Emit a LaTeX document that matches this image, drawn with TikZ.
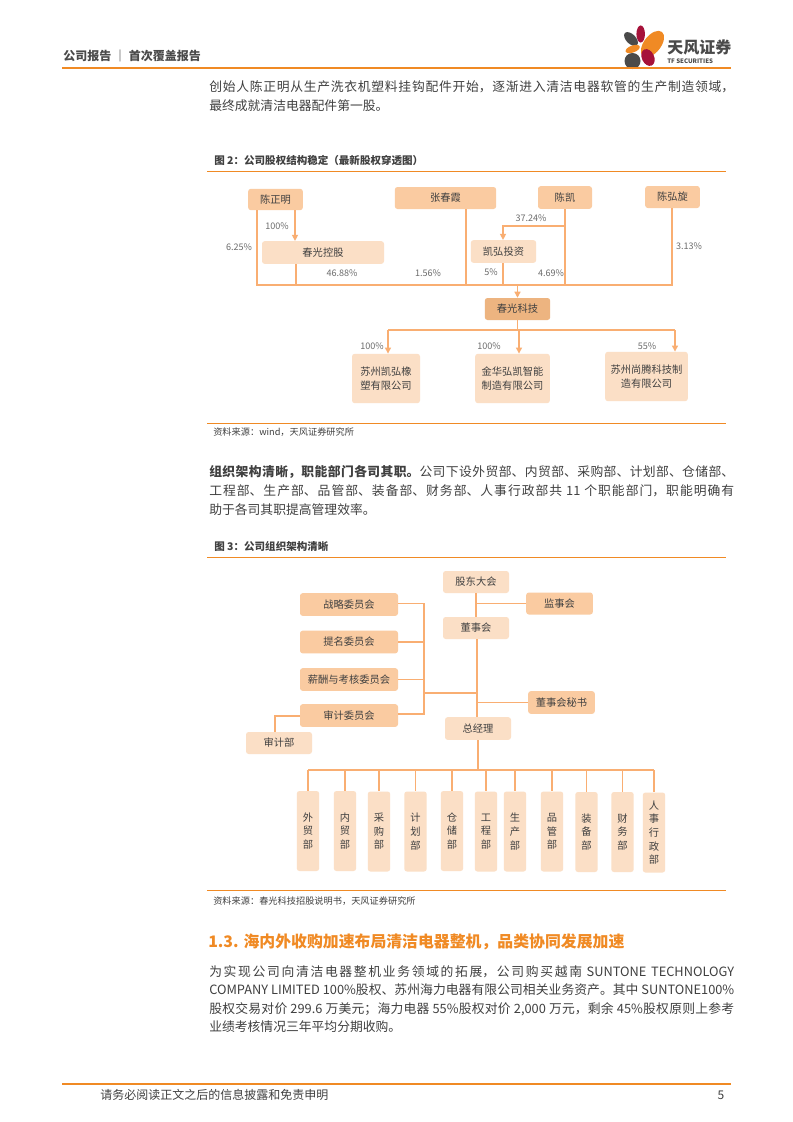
\documentclass[tikz,border=0pt]{standalone}
\usepackage{fontspec}
\setmainfont{Noto Sans CJK SC}
\XeTeXlinebreaklocale "zh"
\XeTeXlinebreakskip=0pt plus 1pt
\usetikzlibrary{arrows.meta}
\definecolor{tforange}{HTML}{F08A24}
\definecolor{tfline}{HTML}{F9AE72}
\definecolor{tfdark}{HTML}{FACBA1}
\definecolor{tflight}{HTML}{FBDFC6}
\definecolor{tfmain}{HTML}{EDB480}
\definecolor{tftext}{HTML}{404040}
\definecolor{tfred}{HTML}{A6123A}
\definecolor{tfgray}{HTML}{4A4A4A}
\tikzset{
  darkbox/.style={rectangle, rounded corners=2pt, fill=tfdark, text=tftext, inner sep=0pt, align=center, font=\fontsize{7.7}{11}\selectfont},
  lightbox/.style={darkbox, fill=tflight},
  mainbox/.style={darkbox, fill=tfmain},
  deptbox/.style={lightbox, minimum width=16.8pt, font=\fontsize{7.7}{10.2}\selectfont},
  conn/.style={draw=tfline, line width=0.9pt},
  arr/.style={conn, -{Triangle[length=4.5pt, width=4.5pt]}, draw=tfline, color=tfline},
  pct/.style={text=gray!85!black, inner sep=0pt, font=\fontsize{6.8}{8}\selectfont},
  bodytext/.style={anchor=north west, inner sep=0pt, text width=393.75pt, align=justify, text=tftext, font=\fontsize{9.6}{14.2}\selectfont},
  figtitle/.style={anchor=west, inner sep=0pt, text=tftext, font=\fontsize{7.9}{9}\bfseries\selectfont},
  srctext/.style={anchor=west, inner sep=0pt, text=tftext, font=\fontsize{6.9}{9}\selectfont},
  orule/.style={draw=tforange, line width=0.7pt}
}
\begin{document}
\begin{tikzpicture}[x=0.75pt, y=-0.75pt]
  \path[use as bounding box, fill=white] (0,0) rectangle (793,1122);

  \fill[tfred] (640.7,34) ellipse (3.2pt and 6.4pt);
  \fill[tfgray, rotate around={45:(631,39)}] (631,39) ellipse (3.6pt and 6.4pt);
  \fill[tforange, rotate around={-38:(652.5,44)}] (652.5,44) ellipse (6.4pt and 11.5pt);
  \fill[tforange, rotate around={-70:(632.7,49)}] (632.7,49) ellipse (2.6pt and 5.6pt);
  \fill[tfgray] (632.5,61) ellipse (6pt and 6pt);
  \fill[tfred, rotate around={25:(648,57.5)}] (648,57.5) ellipse (4.6pt and 6.6pt);
  \draw[tforange, line width=1.5pt] (62,68) -- (731,68);
  \node[anchor=west, inner sep=0pt, text=tfgray, font=\fontsize{9}{11}\bfseries\selectfont] (header) at (63,56) {公司报告 ｜ 首次覆盖报告};
  \node[anchor=west, inner sep=0pt, text=tfgray, font=\fontsize{12}{14}\bfseries\selectfont] (tfname) at (667,47) {天风证券};
  \node[anchor=west, inner sep=0pt, text=tfgray, font=\fontsize{4.6}{6}\bfseries\selectfont] (tfsub) at (667,61) {TF SECURITIES};

  \node[bodytext] (para1) at (209,80) {创始人陈正明从生产洗衣机塑料挂钩配件开始，逐渐进入清洁电器软管的生产制造领域，\linebreak 最终成就清洁电器配件第一股。};

  \node[figtitle] (fig2) at (214,161) {图 2：公司股权结构稳定（最新股权穿透图）};
  \draw[orule] (207,171) -- (726,171);

  \node[darkbox, minimum width=41pt, minimum height=16pt] (czm) at (275.5,199.5) {陈正明};
  \node[darkbox, minimum width=76pt, minimum height=16.5pt] (zcx) at (445.5,198) {张春霞};
  \node[darkbox, minimum width=40.5pt, minimum height=17pt] (ck) at (565,197.5) {陈凯};
  \node[darkbox, minimum width=41pt, minimum height=16.5pt] (chx) at (672.5,197) {陈弘旋};
  \node[lightbox, minimum width=91.5pt, minimum height=17pt] (cgkg) at (323,252.5) {春光控股};
  \node[lightbox, minimum width=49pt, minimum height=17pt] (khtz) at (503.5,251.5) {凯弘投资};
  \node[mainbox, minimum width=49pt, minimum height=16.5pt] (cgkj) at (517.5,309) {春光科技};
  \node[lightbox, minimum width=51pt, minimum height=37pt] (szkh) at (386,378.5) {苏州凯弘橡\\塑有限公司};
  \node[lightbox, minimum width=56pt, minimum height=37pt] (jhhk) at (512.5,378.5) {金华弘凯智能\\制造有限公司};
  \node[lightbox, minimum width=62pt, minimum height=37pt] (szst) at (646.5,376.5) {苏州尚腾科技制\\造有限公司};

  \coordinate (busl) at (257,285);
  \coordinate (busr) at (672,285);
  \coordinate (busm) at (517.5,285);
  \coordinate (kbend) at (565,226);
  \coordinate (branchl) at (388,330);
  \coordinate (branchr) at (675,330);
  \coordinate (branchm) at (517.5,330);

  \draw[conn] (czm.south -| busl) -- (busl) -- (busr) -- (chx.south -| busr);
  \draw[arr] (295,0 |- czm.south) -- (295,0 |- cgkg.north);
  \draw[conn] (296,0 |- cgkg.south) -- (296,285);
  \draw[conn] (466,0 |- zcx.south) -- (466,285);
  \draw[conn] (ck.south) -- (kbend) -- (kbend |- busl);
  \draw[arr] (kbend) -- (503,226) -- (503,0 |- khtz.north);
  \draw[conn] (503,0 |- khtz.south) -- (503,285);
  \draw[arr] (busm) -- (cgkj.north);
  \draw[conn] (cgkj.south) -- (branchm);
  \draw[conn] (branchl) -- (branchr);
  \draw[arr] (branchl) -- (388,0 |- szkh.north);
  \draw[arr] (branchm) -- (519,330) -- (519,0 |- jhhk.north);
  \draw[arr] (branchr) -- (675,0 |- szst.north);

  \node[pct] (p1) at (277,226) {100\%};
  \node[pct] (p2) at (239,247) {6.25\%};
  \node[pct] (p3) at (342,273) {46.88\%};
  \node[pct] (p4) at (428,273) {1.56\%};
  \node[pct] (p5) at (531,218) {37.24\%};
  \node[pct] (p6) at (491,272) {5\%};
  \node[pct] (p7) at (551,273) {4.69\%};
  \node[pct] (p8) at (689,246) {3.13\%};
  \node[pct] (p9) at (372,346) {100\%};
  \node[pct] (p10) at (489,346) {100\%};
  \node[pct] (p11) at (647,346) {55\%};

  \draw[orule] (207,423) -- (726,423);
  \node[srctext] (src2) at (213,432) {资料来源：wind，天风证券研究所};

  \node[bodytext] (para2) at (209,465) {\textbf{组织架构清晰，职能部门各司其职。}公司下设外贸部、内贸部、采购部、计划部、仓储部、\linebreak 工程部、生产部、品管部、装备部、财务部、人事行政部共 11 个职能部门，职能明确有\linebreak 助于各司其职提高管理效率。};

  \node[figtitle] (fig3) at (214,546) {图 3：公司组织架构清晰};
  \draw[orule] (207,557) -- (726,557);

  \node[lightbox, minimum width=49.5pt, minimum height=16.5pt] (gd) at (476,582) {股东大会};
  \node[darkbox, minimum width=50pt, minimum height=16.5pt] (js) at (559.5,603.5) {监事会};
  \node[lightbox, minimum width=49.5pt, minimum height=16.5pt] (ds) at (476,628) {董事会};
  \node[darkbox, minimum width=73.5pt, minimum height=17pt] (zl) at (349,604.5) {战略委员会};
  \node[darkbox, minimum width=73.5pt, minimum height=17pt] (tm) at (349,642) {提名委员会};
  \node[darkbox, minimum width=73.5pt, minimum height=17pt] (xc) at (349,679.5) {薪酬与考核委员会};
  \node[darkbox, minimum width=73.5pt, minimum height=17pt] (sjw) at (349,715.5) {审计委员会};
  \node[lightbox, minimum width=49.5pt, minimum height=16.5pt] (sjb) at (279,743) {审计部};
  \node[lightbox, minimum width=49.5pt, minimum height=17pt] (zjl) at (478,728.5) {总经理};
  \node[darkbox, minimum width=50pt, minimum height=17pt] (ms) at (561.5,702.5) {董事会秘书};

  \coordinate (cmtop) at (424,603.5);
  \coordinate (cmbot) at (424,714);
  \coordinate (cmmid) at (424,693);
  \coordinate (trunk) at (477,693);
  \coordinate (sjbend) at (275,716);

  \draw[conn] (gd.south) -- (ds.north);
  \draw[conn] (js.west) -- (476,603.5);
  \draw[conn] (zl.east |- cmtop) -- (cmtop) -- (cmbot) -- (sjw.east |- cmbot);
  \draw[conn] (tm.east) -- (tm.east -| cmtop);
  \draw[conn] (xc.east) -- (xc.east -| cmtop);
  \draw[conn] (cmmid) -- (trunk);
  \draw[conn] (477,0 |- ds.south) -- (477,0 |- zjl.north);
  \draw[conn] (ms.west) -- (477,702.5);
  \draw[conn] (sjw.west |- sjbend) -- (sjbend) -- (sjbend |- sjb.north);

  \node[deptbox, minimum height=60pt] (d1) at (308,831) {外\\贸\\部};
  \node[deptbox, minimum height=60pt] (d2) at (345,831) {内\\贸\\部};
  \node[deptbox, minimum height=60pt] (d3) at (379,831.5) {采\\购\\部};
  \node[deptbox, minimum height=60pt] (d4) at (415.5,831.5) {计\\划\\部};
  \node[deptbox, minimum height=60pt] (d5) at (452,831) {仓\\储\\部};
  \node[deptbox, minimum height=60pt] (d6) at (486,831.5) {工\\程\\部};
  \node[deptbox, minimum height=60pt] (d7) at (515,831.5) {生\\产\\部};
  \node[deptbox, minimum height=60pt] (d8) at (552,831.5) {品\\管\\部};
  \node[deptbox, minimum height=60pt] (d9) at (586.5,832) {装\\备\\部};
  \node[deptbox, minimum height=60pt] (d10) at (622.5,832) {财\\务\\部};
  \node[deptbox, minimum height=60pt] (d11) at (654,832.5) {人\\事\\行\\政\\部};

  \coordinate (deptbus) at (478,770);
  \draw[conn] (zjl.south -| deptbus) -- (deptbus);
  \draw[conn] (d1.north |- deptbus) -- (d11.north |- deptbus);
  \foreach \d in {d1,d2,d3,d4,d5,d6,d7,d8,d9,d10,d11}
    \draw[conn] (\d.north |- deptbus) -- (\d.north);

  \draw[orule] (207,890) -- (726,890);
  \node[srctext] (src3) at (213,901) {资料来源：春光科技招股说明书，天风证券研究所};

  \node[anchor=west, inner sep=0pt, text=tforange, font=\fontsize{11.9}{14}\bfseries\selectfont] (sec) at (208,942) {1.3. 海内外收购加速布局清洁电器整机，品类协同发展加速};

  \node[bodytext, font=\fontsize{9.6}{13.9}\selectfont] (para3) at (209,965) {为实现公司向清洁电器整机业务领域的拓展，公司购买越南 SUNTONE TECHNOLOGY\linebreak COMPANY LIMITED 100\%股权、苏州海力电器有限公司相关业务资产。其中 SUNTONE100\%\linebreak 股权交易对价 299.6 万美元；海力电器 55\%股权对价 2,000 万元，剩余 45\%股权原则上参考\linebreak 业绩考核情况三年平均分期收购。};

  \draw[tforange, line width=1pt] (62,1084) -- (731,1084);
  \node[anchor=west, inner sep=0pt, text=tftext, font=\fontsize{9}{11}\selectfont] (foot) at (100,1095) {请务必阅读正文之后的信息披露和免责申明};
  \node[inner sep=0pt, text=tftext, font=\fontsize{9}{11}\selectfont] (pageno) at (721,1095) {5};
\end{tikzpicture}
\end{document}
